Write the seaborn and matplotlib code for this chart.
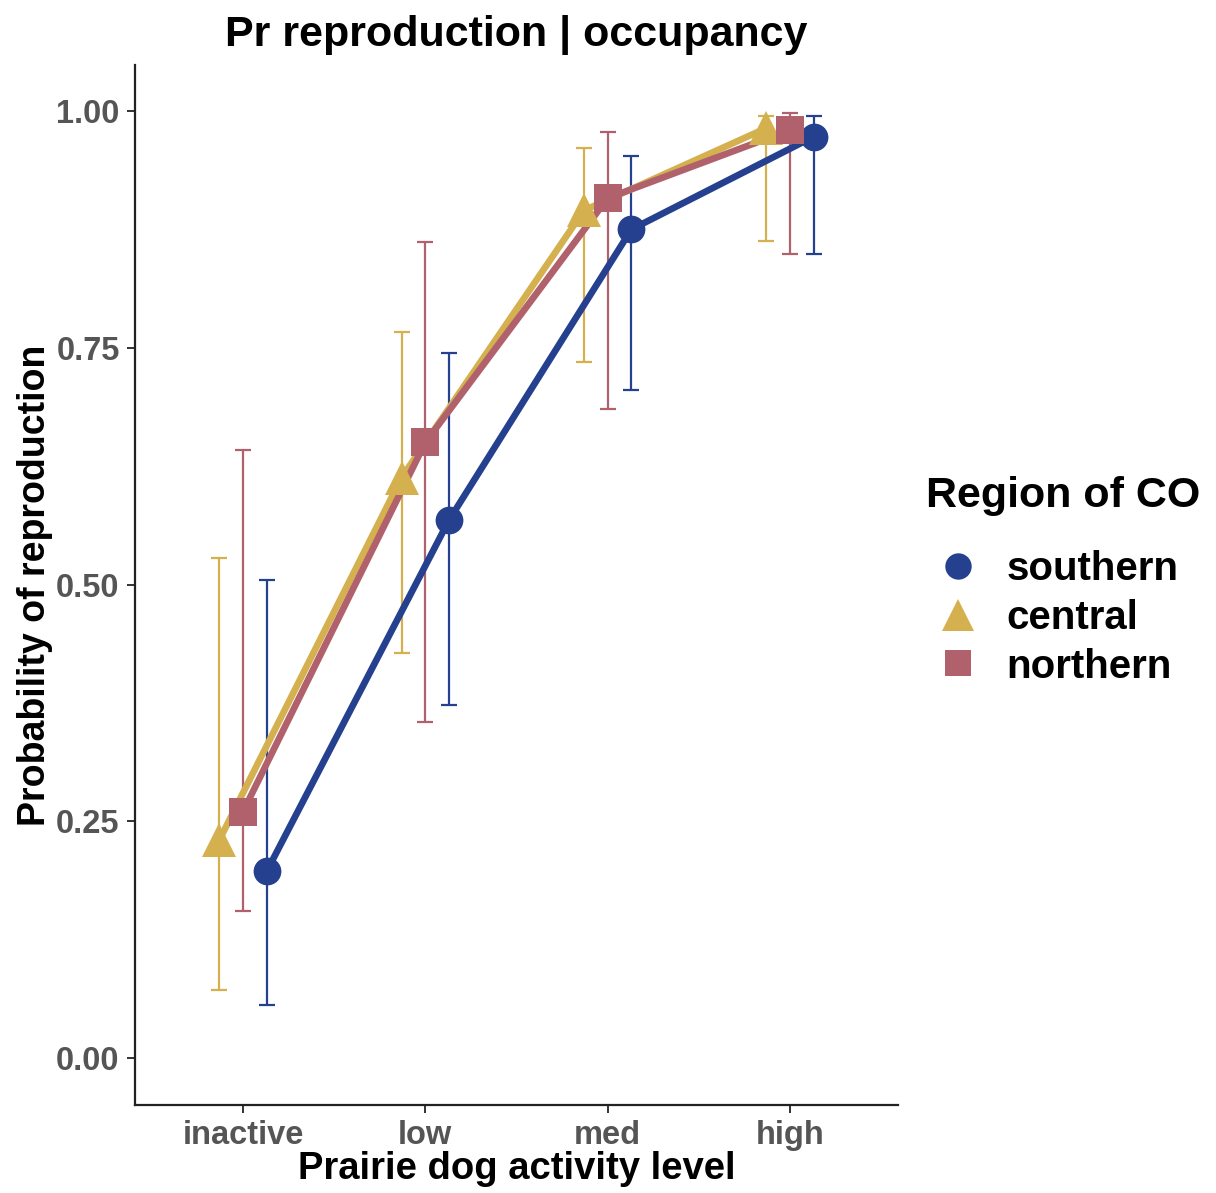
import numpy as np
import pandas as pd
import matplotlib
matplotlib.use("Agg")
import matplotlib.pyplot as plt
import seaborn as sns
from matplotlib.lines import Line2D

# Activity levels and regions
levels = ["inactive", "low", "med", "high"]
regions = ["southern", "central", "northern"]

# Estimated probability of reproduction with 95% intervals
southern_est = [0.197, 0.568, 0.875, 0.973]
southern_lo = [0.056, 0.373, 0.705, 0.849]
southern_hi = [0.505, 0.745, 0.953, 0.995]

central_est = [0.230, 0.613, 0.895, 0.982]
central_lo = [0.072, 0.428, 0.735, 0.863]
central_hi = [0.528, 0.767, 0.961, 0.995]

northern_est = [0.260, 0.650, 0.908, 0.980]
northern_lo = [0.155, 0.355, 0.685, 0.849]
northern_hi = [0.642, 0.862, 0.978, 0.998]

palette = {"southern": "#24408e", "central": "#d4b04f", "northern": "#b0616b"}
markers = {"southern": "o", "central": "^", "northern": "s"}
marker_sizes = {"southern": 20, "central": 25, "northern": 20}
dodge = {"southern": 0.13, "central": -0.13, "northern": 0.0}

rows = []
for reg, est, lo, hi in [("southern", southern_est, southern_lo, southern_hi),
                         ("central", central_est, central_lo, central_hi),
                         ("northern", northern_est, northern_lo, northern_hi)]:
    for i, lev in enumerate(levels):
        rows.append(dict(region=reg, level=lev, pos=i + 1 + dodge[reg],
                         est=est[i], lo=lo[i], hi=hi[i]))
df = pd.DataFrame(rows)

sns.set_theme(style="ticks")
plt.rcParams["font.family"] = ["Liberation Sans", "DejaVu Sans"]

fig = plt.figure(figsize=(12.16, 11.93), dpi=100)
fig.patch.set_facecolor("white")
ax = fig.add_axes([0.111, 0.0738, 0.6275, 0.8717])
ax.set_facecolor("white")

# error bars
for reg in regions:
    d = df[df.region == reg]
    ax.errorbar(d.pos, d.est, yerr=[d.est - d.lo, d.hi - d.est], fmt="none",
                ecolor=palette[reg], elinewidth=1.6, capsize=5.5, capthick=1.6,
                zorder=2)

# connecting lines
sns.lineplot(data=df, x="pos", y="est", hue="region", hue_order=regions,
             palette=palette, linewidth=4.8, legend=False, sort=True,
             estimator=None, ax=ax, zorder=3)

# points
for reg in regions:
    d = df[df.region == reg]
    ax.plot(d.pos, d.est, linestyle="none", marker=markers[reg],
            markersize=marker_sizes[reg], color=palette[reg],
            markeredgewidth=0, zorder=4)

ax.set_xlim(0.408, 4.592)
ax.set_ylim(-0.0496, 1.0486)
ax.set_xticks(range(1, 5))
ax.set_xticklabels(levels)
ax.set_yticks([0, 0.25, 0.5, 0.75, 1.0])
ax.set_yticklabels(["0.00", "0.25", "0.50", "0.75", "1.00"])
ax.grid(False)
for s in ["top", "right"]:
    ax.spines[s].set_visible(False)
for s in ["left", "bottom"]:
    ax.spines[s].set_linewidth(1.6)
    ax.spines[s].set_color("#222222")
ax.tick_params(axis="both", which="both", direction="out", length=6, width=1.4,
               color="#333333", top=False, right=False)
ax.tick_params(axis="both", labelsize=23.5, labelcolor="#555555", pad=5)
for t in ax.get_xticklabels() + ax.get_yticklabels():
    t.set_fontweight("bold")

ax.set_xlabel("Prairie dog activity level", fontsize=27.5, fontweight="bold",
              color="black", labelpad=0)
ax.set_ylabel("Probability of reproduction", fontsize=27, fontweight="bold",
              color="black", labelpad=2)
ax.set_title("Pr reproduction | occupancy", fontsize=31, fontweight="bold",
             color="black", pad=14)

handles = [Line2D([0], [0], marker=markers[r], linestyle="none",
                  markersize=marker_sizes[r] * 0.95, color=palette[r],
                  markeredgewidth=0) for r in regions]
leg = fig.legend(handles, regions, title="Region of CO", loc="center left",
                 bbox_to_anchor=(0.748, 0.513), frameon=False,
                 prop=dict(size=29, weight="bold"), handletextpad=0.4,
                 handlelength=1.6, labelspacing=0.27, borderaxespad=0,
                 labelcolor="black")
leg.get_title().set_fontsize(31)
leg.get_title().set_fontweight("bold")
leg.get_title().set_color("black")
leg._legend_box.align = "left"
leg._legend_box.sep = 24

fig.savefig("out.png", dpi=100, facecolor="white")
